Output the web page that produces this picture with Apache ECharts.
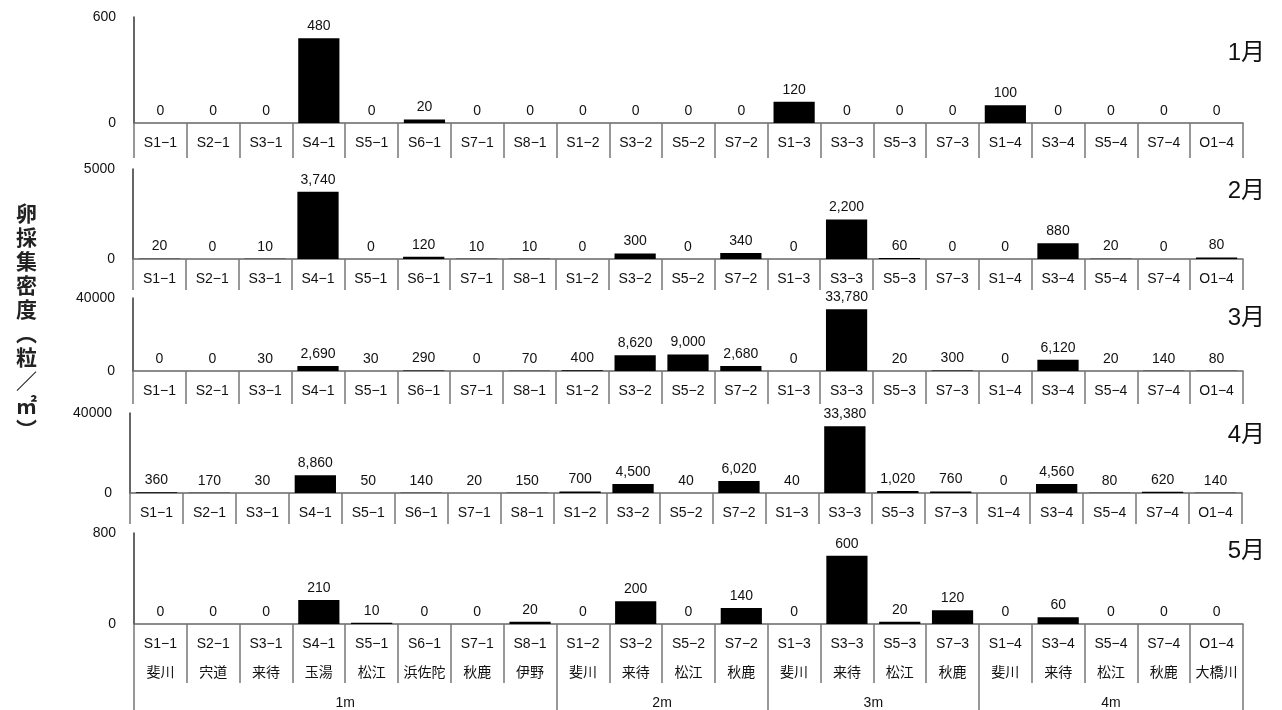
<!DOCTYPE html>
<html>
<head>
<meta charset="utf-8">
<script src="https://cdn.jsdelivr.net/npm/echarts@6/dist/echarts.min.js"></script>
<style>
  html, body { margin: 0; padding: 0; background: #fff; }
  #chart { width: 1282px; height: 710px; }
</style>
</head>
<body>
<div id="chart"></div>
<script>
// Station codes, site names and depth groups (shared by all monthly panels)
const categories = ['S1−1','S2−1','S3−1','S4−1','S5−1','S6−1','S7−1','S8−1','S1−2','S3−2','S5−2','S7−2','S1−3','S3−3','S5−3','S7−3','S1−4','S3−4','S5−4','S7−4','O1−4'];
const sites = ['斐川','宍道','来待','玉湯','松江','浜佐陀','秋鹿','伊野','斐川','来待','松江','秋鹿','斐川','来待','松江','秋鹿','斐川','来待','松江','秋鹿','大橋川'];
const depthGroups = ['1m','2m','3m','4m'];
const depthGroupSizes = [8, 4, 4, 5];

// Egg density (grains / m²) per month
const months = ['1月','2月','3月','4月','5月'];
const yMax = [600, 5000, 40000, 40000, 800];
const jan = [0,0,0,480,0,20,0,0,0,0,0,0,120,0,0,0,100,0,0,0,0];
const feb = [20,0,10,3740,0,120,10,10,0,300,0,340,0,2200,60,0,0,880,20,0,80];
const mar = [0,0,30,2690,30,290,0,70,400,8620,9000,2680,0,33780,20,300,0,6120,20,140,80];
const apr = [360,170,30,8860,50,140,20,150,700,4500,40,6020,40,33380,1020,760,0,4560,80,620,140];
const may = [0,0,0,210,10,0,0,20,0,200,0,140,0,600,20,120,0,60,0,0,0];
const monthly = [jan, feb, mar, apr, may];

const yName = '卵採集密度︵粒／㎡︶';

// Panel geometry
const panels = [
  { left: 134, right: 39, top: 17,  height: 106, tick: 35, monthTop: 36 },
  { left: 133, right: 39, top: 169, height: 90,  tick: 31, monthTop: 174 },
  { left: 133, right: 39, top: 298, height: 73,  tick: 33, monthTop: 301 },
  { left: 130, right: 40, top: 413, height: 80,  tick: 31, monthTop: 418 },
  { left: 134, right: 39, top: 533, height: 91,  tick: 59, monthTop: 534 }
];

const FONT = '"Liberation Sans", "Noto Sans CJK JP", sans-serif';

// Half-slot positions for the depth group row: centres get a label, edges get a tick
const halfSlots = categories.length * 2 + 1;
const groupLabels = new Array(halfSlots).fill('');
const groupEdges = new Set([0]);
let acc = 0;
depthGroups.forEach((g, i) => {
  groupLabels[acc + depthGroupSizes[i]] = g;
  acc += depthGroupSizes[i] * 2;
  groupEdges.add(acc);
});
const groupSlotNames = groupLabels.map((l, i) => l || ('\u200b'.repeat(i + 1)));

const grid = [], xAxis = [], yAxis = [], series = [], title = [];
panels.forEach((p, i) => {
  grid.push({ left: p.left, right: p.right, top: p.top, height: p.height, outerBoundsMode: 'none', containLabel: false });
  const last = i === panels.length - 1;
  xAxis.push({
    type: 'category',
    gridIndex: i,
    data: categories,
    boundaryGap: true,
    axisLine: { show: true, lineStyle: { color: '#666', width: 1.5 } },
    axisTick: { show: true, interval: 0, length: p.tick, lineStyle: { color: '#777', width: 1.5 } },
    axisLabel: {
      interval: 0, margin: 6, color: '#111', fontSize: 14, lineHeight: 29, fontFamily: FONT,
      formatter: last ? (v, idx) => v + '\n' + sites[idx] : (v) => v
    }
  });
  yAxis.push({
    type: 'value',
    gridIndex: i,
    min: 0,
    max: yMax[i],
    interval: yMax[i],
    splitLine: { show: false },
    axisTick: { show: false },
    axisLine: { show: true, lineStyle: { color: '#333', width: 1.5 } },
    axisLabel: { margin: 18, color: '#111', fontSize: 14, fontFamily: FONT, formatter: (v) => String(v) }
  });
  series.push({
    type: 'bar',
    xAxisIndex: i,
    yAxisIndex: i,
    data: monthly[i],
    barCategoryGap: '22%',
    itemStyle: { color: '#000' },
    label: {
      show: true, position: 'top', distance: 5, color: '#111', fontSize: 14, fontFamily: FONT,
      formatter: (d) => d.value.toLocaleString('en-US')
    }
  });
  title.push({
    text: months[i],
    right: 12,
    top: p.monthTop,
    textStyle: { fontSize: 24, fontWeight: 'normal', color: '#111', fontFamily: FONT }
  });
});

// Depth group row under the last panel
xAxis.push({
  type: 'category',
  gridIndex: panels.length - 1,
  position: 'bottom',
  offset: 59,
  data: groupSlotNames,
  boundaryGap: false,
  axisLine: { show: false },
  axisTick: {
    show: true, length: 27,
    interval: (idx) => groupEdges.has(idx),
    lineStyle: { color: '#777', width: 1.5 }
  },
  axisLabel: {
    interval: 0, margin: 13, color: '#111', fontSize: 14, lineHeight: 14, fontFamily: FONT,
    formatter: (v, idx) => groupLabels[idx]
  }
});

// Vertical axis name
title.push({
  text: yName.split('').join('\n'),
  left: 11,
  top: 198,
  textStyle: { fontSize: 21, lineHeight: 24, fontWeight: 'bold', color: '#222', fontFamily: FONT }
});

const chart = echarts.init(document.getElementById('chart'), null, { renderer: 'canvas' });
chart.setOption({
  animation: false,
  backgroundColor: '#fff',
  textStyle: { fontFamily: FONT },
  title, grid, xAxis, yAxis, series
});
</script>
</body>
</html>
